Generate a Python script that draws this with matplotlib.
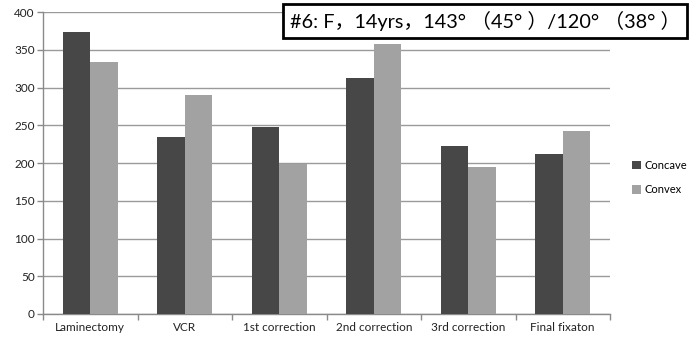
import numpy as np
import matplotlib
matplotlib.use("Agg")
import matplotlib.pyplot as plt

plt.rcParams['font.family'] = ['Lato', 'DejaVu Sans']

stages = ["Laminectomy", "VCR", "1st correction", "2nd correction",
          "3rd correction", "Final fixaton"]
concave = [373, 234, 248, 312, 223, 212]
convex = [334, 290, 199, 357, 195, 243]
yticks = [0, 50, 100, 150, 200, 250, 300, 350, 400]
title = "#6: F，14yrs，143° （45° ）/120° （38° ）"

fig = plt.figure(figsize=(6.89, 3.40), dpi=100)
ax = fig.add_axes([43 / 689, 1 - 314 / 340, 567 / 689, 302 / 340])

x = np.arange(len(stages))
w = 0.29
ax.bar(x - w / 2, concave, w, color="#474747", label="Concave", zorder=3)
ax.bar(x + w / 2, convex, w, color="#a2a2a2", label="Convex", zorder=3)

ax.set_xlim(-0.5, len(stages) - 0.5)
ax.set_ylim(0, 400)
ax.set_yticks(yticks)
ax.set_yticklabels([str(v) for v in yticks], fontsize=8.5, color="#222222")
ax.yaxis.grid(True, color="#9a9a9a", linewidth=1.0, zorder=0)
ax.tick_params(axis="y", length=4, width=1, color="#8a8a8a", pad=2)

# category labels centred, ticks on category boundaries
ax.set_xticks(x)
ax.set_xticklabels(stages, fontsize=8.5, color="#222222")
ax.set_xticks(np.arange(-0.5, len(stages)), minor=True)
ax.tick_params(axis="x", which="major", length=0, pad=6)
ax.tick_params(axis="x", which="minor", length=4, width=1, color="#8a8a8a")

for s in ("top", "right"):
    ax.spines[s].set_visible(False)
for s in ("left", "bottom"):
    ax.spines[s].set_color("#8a8a8a")
    ax.spines[s].set_linewidth(1.0)

leg = fig.legend(loc="upper left", bbox_to_anchor=(622 / 689, 1 - 150 / 340),
                 frameon=False, fontsize=8, handlelength=0.8, handleheight=0.8,
                 handletextpad=0.3, labelspacing=1.2)

fig.text(290 / 689, 1 - 21 / 340, title, fontsize=14.3, va="center", ha="left",
         family=["Lato", "Noto Sans CJK SC"],
         bbox=dict(boxstyle="square,pad=0.33", facecolor="white",
                   edgecolor="black", linewidth=2))

fig.savefig("out.png", dpi=100)
